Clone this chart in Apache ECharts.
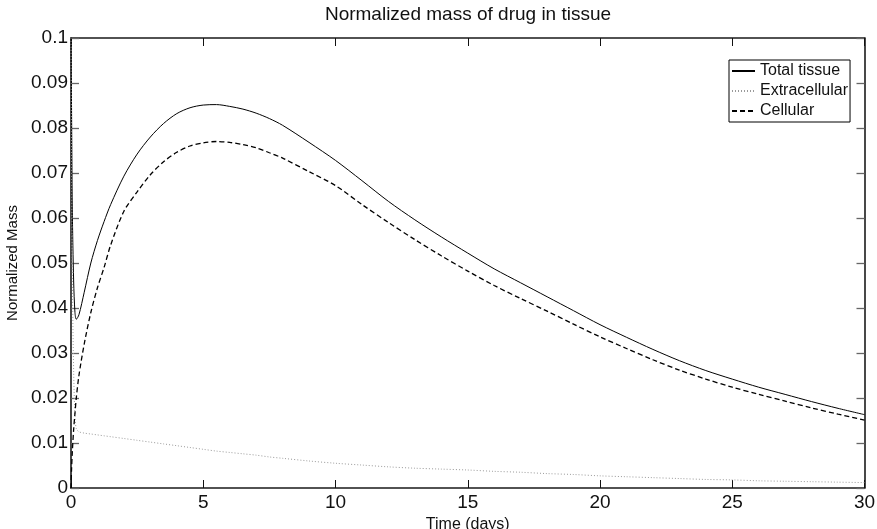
<!DOCTYPE html>
<html>
<head>
<meta charset="utf-8">
<script src="https://cdn.jsdelivr.net/npm/echarts@6/dist/echarts.min.js"></script>
<style>html,body{margin:0;padding:0;background:#fff}#c{width:877px;height:529px}</style>
</head>
<body>
<div id="c"></div>
<script>
// Data
const times = [0, 0.02, 0.05, 0.1, 0.15, 0.2, 0.3, 0.5, 0.75, 1, 1.25, 1.5, 2, 2.5, 3, 3.5, 4, 4.5, 5, 5.5, 6, 6.5, 7, 7.5, 8, 9, 10, 11, 12, 13, 14, 15, 16, 17, 18, 19, 20, 21, 22, 23, 24, 25, 26, 27, 28, 29, 30];
const totalTissue = [0.1, 0.085, 0.062, 0.046, 0.039, 0.0375, 0.0385, 0.0435, 0.0500, 0.0550, 0.0592, 0.0630, 0.0693, 0.0742, 0.0780, 0.0810, 0.0832, 0.0845, 0.0851, 0.0852, 0.0848, 0.0842, 0.0833, 0.0821, 0.0806, 0.0768, 0.0728, 0.0683, 0.0637, 0.0596, 0.0558, 0.0522, 0.0487, 0.0456, 0.0425, 0.0394, 0.0363, 0.0335, 0.0308, 0.0283, 0.0261, 0.0242, 0.0224, 0.0208, 0.0192, 0.0177, 0.0163];
const extracellular = [0.1, 0.075, 0.048, 0.026, 0.016, 0.0132, 0.0125, 0.0122, 0.0120, 0.0118, 0.0116, 0.0114, 0.0110, 0.0106, 0.0102, 0.0098, 0.0094, 0.0090, 0.0086, 0.0082, 0.0079, 0.0076, 0.0073, 0.0069, 0.0066, 0.0060, 0.0055, 0.0051, 0.0047, 0.0044, 0.0042, 0.0040, 0.0037, 0.0035, 0.0032, 0.0030, 0.0027, 0.0025, 0.0023, 0.0021, 0.0019, 0.0018, 0.0016, 0.0015, 0.0014, 0.0013, 0.0012];
const cellular = [0, 0.004, 0.008, 0.013, 0.0166, 0.020, 0.025, 0.032, 0.039, 0.0445, 0.049, 0.054, 0.0615, 0.0658, 0.0696, 0.0725, 0.0746, 0.0760, 0.0767, 0.0770, 0.0768, 0.0763, 0.0756, 0.0745, 0.0733, 0.0703, 0.0672, 0.0630, 0.0590, 0.0552, 0.0516, 0.0482, 0.0450, 0.0421, 0.0393, 0.0364, 0.0336, 0.0310, 0.0285, 0.0262, 0.0242, 0.0224, 0.0208, 0.0193, 0.0178, 0.0164, 0.0151];
const seriesNames = ['Total tissue', 'Extracellular', 'Cellular'];
const titleText = 'Normalized mass of drug in tissue';
const xName = 'Time (days)';
const yName = 'Normalized Mass';

const FONT = '"Liberation Sans", Arial, Helvetica, sans-serif';
const pairs = arr => times.map((t, i) => [t, arr[i]]);

const chart = echarts.init(document.getElementById('c'), null, {renderer: 'canvas'});
const axisLine = {show: true, onZero: false, lineStyle: {color: '#1a1a1a', width: 1.6}};
const hidden = {color: 'rgba(0,0,0,0)', borderWidth: 0};
chart.setOption({
  animation: false,
  backgroundColor: '#fff',
  title: {
    text: titleText, left: 468, top: 5, padding: 0, textAlign: 'center',
    textStyle: {fontFamily: FONT, fontSize: 19, fontWeight: 'normal', color: '#111'}
  },
  grid: {left: 71, right: 12.5, top: 38, bottom: 41, containLabel: false, outerBoundsMode: 'none'},
  legend: {
    orient: 'vertical', left: 729, top: 60, padding: [3, 2, 3, 2], itemGap: 4,
    itemWidth: 23, itemHeight: 16, backgroundColor: '#fff', borderColor: '#000', borderWidth: 1,
    itemStyle: {color: 'rgba(0,0,0,0)', borderWidth: 0, opacity: 0},
    textStyle: {fontFamily: FONT, fontSize: 16, color: '#111'},
    data: seriesNames
  },
  xAxis: [{
    type: 'value', min: 0, max: 30, interval: 5, position: 'bottom',
    name: xName, nameLocation: 'middle', nameGap: 21,
    nameTextStyle: {fontFamily: FONT, fontSize: 16, color: '#111'},
    axisLine: axisLine,
    axisTick: {show: true, inside: true, length: 8, lineStyle: {color: '#111', width: 1}},
    axisLabel: {fontFamily: FONT, fontSize: 19, color: '#111', margin: 5},
    splitLine: {show: false}
  }, {
    type: 'value', min: 0, max: 30, interval: 5, position: 'top',
    axisLine: axisLine,
    axisTick: {show: true, inside: true, length: 8, lineStyle: {color: '#111', width: 1}},
    axisLabel: {show: false}, splitLine: {show: false}
  }],
  yAxis: [{
    type: 'value', min: 0, max: 0.1, interval: 0.01, position: 'left',
    name: yName, nameLocation: 'middle', nameGap: 45, nameRotate: 90,
    nameTextStyle: {fontFamily: FONT, fontSize: 15, color: '#111'},
    axisLine: axisLine,
    axisTick: {show: true, inside: true, length: 8, lineStyle: {color: '#666', width: 1.3}},
    axisLabel: {fontFamily: FONT, fontSize: 19, color: '#111', margin: 3,
      formatter: v => String(+v.toFixed(2))},
    splitLine: {show: false}
  }, {
    type: 'value', min: 0, max: 0.1, interval: 0.01, position: 'right',
    axisLine: axisLine,
    axisTick: {show: true, inside: true, length: 8, lineStyle: {color: '#666', width: 1.3}},
    axisLabel: {show: false}, splitLine: {show: false}
  }],
  series: [{
    name: seriesNames[0], type: 'line', data: pairs(totalTissue), symbol: 'none',
    smooth: 0.3,
    lineStyle: {color: '#000', width: 1, type: 'solid'}, itemStyle: hidden
  }, {
    name: seriesNames[1], type: 'line', data: pairs(extracellular), symbol: 'none',
    smooth: 0.3,
    lineStyle: {color: '#9a9a9a', width: 1, type: [1, 2]}, itemStyle: hidden
  }, {
    name: seriesNames[2], type: 'line', data: pairs(cellular), symbol: 'none',
    smooth: 0.3,
    lineStyle: {color: '#000', width: 1.3, type: [5, 3]}, itemStyle: hidden
  }]
});
</script>
</body>
</html>
